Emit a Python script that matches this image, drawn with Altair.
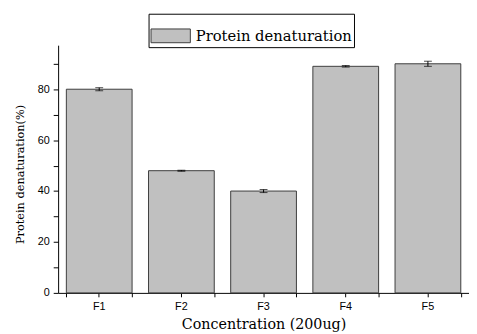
import altair as alt
import pandas as pd

categories = ["F1", "F2", "F3", "F4", "F5"]
values = [80.0, 48.0, 40.0, 89.0, 90.0]
errors = [0.6, 0.2, 0.6, 0.3, 1.0]
series_name = "Protein denaturation"
y_ticks = [0, 10, 20, 30, 40, 50, 60, 70, 80, 90]

df = pd.DataFrame({"cat": categories, "val": values, "err": errors})
df["lo"] = df["val"] - df["err"]
df["hi"] = df["val"] + df["err"]
df["series"] = series_name

xscale = alt.Scale(paddingInner=0.2, paddingOuter=0.1)
yscale = alt.Scale(domain=[0, 97.3], nice=False, zero=True)

y_axis = alt.Axis(
    title="Protein denaturation(%)", values=y_ticks,
    labelExpr="datum.value % 20 === 0 ? datum.label : ''",
    tickSize=5, labelPadding=4, titlePadding=12, grid=False,
    titleFont="DejaVu Serif", titleFontSize=11.5, titleFontWeight="normal",
    titleY=131,
)

bars = alt.Chart(df).mark_bar(stroke="#3c3c3c", strokeWidth=1).encode(
    x=alt.X("cat:N", sort=categories, scale=xscale,
            axis=alt.Axis(title="Concentration (200ug)", labelAngle=0, tickSize=4,
                          orient="bottom",
                          labelPadding=4, titlePadding=6, grid=False,
                          titleFont="DejaVu Serif", titleFontSize=14.5,
                          titleFontWeight="normal")),
    y=alt.Y("val:Q", scale=yscale, axis=y_axis),
    fill=alt.Fill("series:N", scale=alt.Scale(range=["#c0c0c0"]),
                  legend=alt.Legend(
                      title=None, orient="none", legendX=92, legendY=-32,
                      strokeColor="black", fillColor="white", padding=2,
                      symbolType="M-1,-0.35L1,-0.35L1,0.35L-1,0.35Z",
                      symbolSize=1600, symbolStrokeColor="#3c3c3c",
                      symbolStrokeWidth=1, symbolOpacity=1,
                      labelFont="DejaVu Serif", labelFontSize=15,
                      labelOffset=5, labelColor="black", cornerRadius=0)),
)

err = alt.Chart(df).mark_errorbar(ticks={"size": 8, "thickness": 1},
                                  color="black", thickness=1).encode(
    x=alt.X("cat:N", sort=categories, scale=xscale,
            axis=alt.Axis(tickBand="extent", labels=False, title="",
                          orient="bottom",
                          domain=False, tickSize=4, grid=False)),
    y=alt.Y("lo:Q", scale=yscale, axis=y_axis),
    y2="hi:Q",
)

chart = alt.layer(bars, err).resolve_axis(x="independent").properties(
    width=418, height=252,
    padding={"left": 51, "top": 35, "right": 0, "bottom": 39},
    autosize=alt.AutoSizeParams(type="none"),
).configure_view(stroke=None).configure_axis(
    labelFont="Liberation Sans", labelFontSize=11, labelColor="black",
    domainColor="black", tickColor="black", titleColor="black",
)

chart.save("out.html", embed_options={"renderer": "svg", "actions": False})
